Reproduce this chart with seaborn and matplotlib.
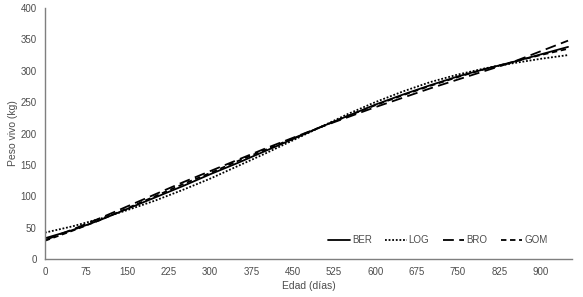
import matplotlib
matplotlib.use("Agg")
import matplotlib.pyplot as plt
import seaborn as sns
import pandas as pd

dias = [0, 50, 100, 150, 200, 250, 300, 350, 400, 450, 500, 550, 600, 650, 700, 750, 800, 850, 900, 950]
ber = [33, 46, 62, 80, 98, 116, 135, 153, 172, 191, 210, 228, 246, 262, 277, 291, 303, 314, 326, 338]
log = [42, 52, 64, 78, 93, 110, 128, 148, 168, 189, 210, 231, 250, 267, 282, 294, 304, 312, 319, 325]
bro = [30, 47, 65, 84, 103, 122, 140, 158, 176, 193, 210, 226, 242, 257, 272, 286, 300, 314, 331, 348]
gom = [29, 45, 62, 81, 100, 119, 137, 156, 174, 192, 210, 228, 245, 261, 276, 290, 303, 314, 325, 335]
series = ["BER", "LOG", "BRO", "GOM"]
xticks = [0, 75, 150, 225, 300, 375, 450, 525, 600, 675, 750, 825, 900]
yticks = [0, 50, 100, 150, 200, 250, 300, 350, 400]

rows = []
for name, vals in zip(series, [ber, log, bro, gom]):
    for d, v in zip(dias, vals):
        rows.append({"Edad": d, "Peso": v, "Modelo": name})
df = pd.DataFrame(rows)

sns.set_style("white")
plt.rcParams['font.family'] = ['Liberation Sans', 'DejaVu Sans']

fig = plt.figure(figsize=(5.83, 2.97), dpi=100)
ax = fig.add_axes([0.077, 0.128, 0.904, 0.845])

dashes = {"BER": "", "LOG": (1, 1), "BRO": (6, 3), "GOM": (3, 2)}
sns.lineplot(data=df, x="Edad", y="Peso", style="Modelo", dashes=dashes,
             color="black", linewidth=1.3, ax=ax, legend=True)

ax.set_xlim(0, 957)
ax.set_ylim(0, 400)
ax.set_xticks(xticks)
ax.set_yticks(yticks)
grey = "#4d4d4d"
ax.tick_params(axis="both", labelsize=7, colors=grey, length=0, pad=6)
ax.set_xlabel("Edad (días)", fontsize=7.5, color=grey, labelpad=3)
ax.set_ylabel("Peso vivo (kg)", fontsize=7.5, color=grey, labelpad=2)
for s in ["top", "right"]:
    ax.spines[s].set_visible(False)
for s in ["left", "bottom"]:
    ax.spines[s].set_color("#7f7f7f")
    ax.spines[s].set_linewidth(1.0)

leg = ax.legend(loc="lower right", bbox_to_anchor=(0.97, 0.02), ncol=4, frameon=False,
                fontsize=7, handlelength=2.2, handletextpad=0.2, columnspacing=1.4)
for t in leg.get_texts():
    t.set_color(grey)

fig.savefig("out.png", dpi=100)
